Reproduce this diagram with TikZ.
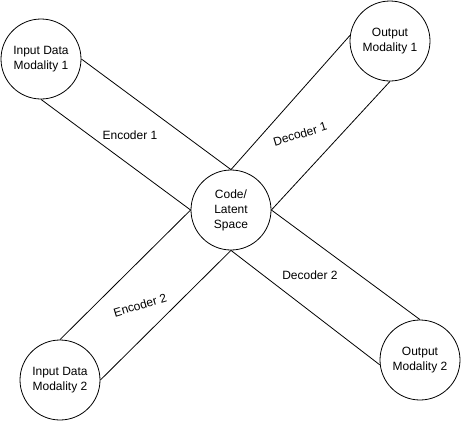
\documentclass[tikz,border=0pt]{standalone}
\usepackage{fontspec}
\setmainfont{Liberation Sans}

\begin{document}
\begin{tikzpicture}[x=1pt,y=-1pt,line width=0.8pt,
  every node/.style={font=\fontsize{12}{15}\selectfont},
  modality/.style={circle,draw,minimum size=80pt,inner sep=0pt,align=center}]
  \useasboundingbox (0,0) rectangle (461,421);

  \node[modality] (in1)  at (41,59)   {Input Data\\Modality 1};
  \node[modality] (out1) at (390,41)  {Output\\Modality 1};
  \node[modality] (code) at (231,210) {Code/\\Latent\\Space};
  \node[modality] (in2)  at (60,380)  {Input Data\\Modality 2};
  \node[modality] (out2) at (420,360) {Output\\Modality 2};

  \path[draw]
    (in1.east)  edge (code.north)
    (in1.south) edge (code.west)

    (code.north) edge (out1.172)
    (code.east)  edge (out1.south)

    (code.west)  edge (in2.north)
    (code.south) edge (in2.east)

    (code.east)  edge (out2.north)
    (code.south) edge (out2.187);

  \node (enc1) at (130,135)            {Encoder 1};
  \node (dec1) at (300,134) [rotate=17] {Decoder 1};
  \node (enc2) at (140,305) [rotate=17] {Encoder 2};
  \node (dec2) at (310,275)            {Decoder 2};
\end{tikzpicture}
\end{document}
